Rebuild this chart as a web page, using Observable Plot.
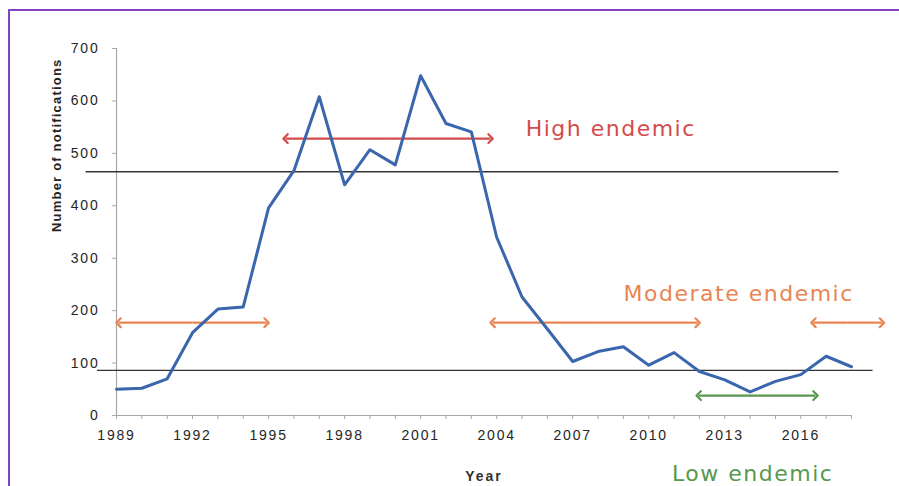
<!DOCTYPE html>
<html>
<head>
<meta charset="utf-8">
<script src="https://cdn.jsdelivr.net/npm/d3@7"></script>
<script src="https://cdn.jsdelivr.net/npm/@observablehq/plot@0.6"></script>
<style>
  html, body { margin: 0; padding: 0; background: #fff; }
  #wrap { position: relative; width: 899px; height: 486px; overflow: hidden; }
  #frame { position: absolute; left: 8px; top: 9px; width: 900px; height: 490px;
           border-left: 2px solid #8344c4; border-top: 2px solid #8344c4; box-sizing: border-box; }
  #chart { position: absolute; left: 0; top: 0; }
  #chart svg [aria-label="x-axis tick label"] text,
  #chart svg [aria-label="y-axis tick label"] text { letter-spacing: 1.8px; }
</style>
</head>
<body>
<div id="wrap"><div id="frame"></div><div id="chart"></div></div>
<script>
// Annual notifications
const years = [1989,1990,1991,1992,1993,1994,1995,1996,1997,1998,1999,2000,2001,2002,2003,2004,2005,2006,2007,2008,2009,2010,2011,2012,2013,2014,2015,2016,2017,2018];
const notifications = [50,52,70,158,203,207,396,467,608,440,507,478,648,557,541,340,226,165,103,122,131,96,120,84,68,45,65,78,113,93];

// Endemicity thresholds (horizontal lines)
const thresholdValues = [465, 86];
const thresholdFrom = [1987.8, 1988.25];
const thresholdTo = [2017.5, 2018.85];

// Endemicity periods (double arrows)
const bandLevels = ["High", "Moderate", "Moderate", "Moderate", "Low"];
const bandFrom = [1995.67, 1989.08, 2003.84, 2016.5, 2011.97];
const bandTo = [2003.76, 1994.92, 2011.93, 2019.2, 2016.58];
const bandValue = [528, 177, 177, 177, 38];

// Annotation labels
const labelTexts = ["High endemic", "Moderate endemic", "Low endemic"];
const labelLevels = ["High", "Moderate", "Low"];
const labelYear = [2008.5, 2013.55, 2014.1];
const labelValue = [547, 231, -110.6];

const yTicks = [0,100,200,300,400,500,600,700];
const xLabelTicks = [1989,1992,1995,1998,2001,2004,2007,2010,2013,2016];

const levelColor = {High: "#d34b4b", Moderate: "#e98552", Low: "#57984e"};

const series = years.map((y, i) => ({year: y, value: notifications[i]}));
const thresholds = thresholdValues.map((v, i) => ({v, x1: thresholdFrom[i], x2: thresholdTo[i]}));
// each double arrow = two half arrows from the middle of the period to each end
const halfArrows = bandLevels.flatMap((l, i) => {
  const mid = (bandFrom[i] + bandTo[i]) / 2;
  return [
    {level: l, x1: mid, x2: bandFrom[i], v: bandValue[i]},
    {level: l, x1: mid, x2: bandTo[i], v: bandValue[i]}
  ];
});
const labels = labelTexts.map((t, i) => ({text: t, level: labelLevels[i], x: labelYear[i], v: labelValue[i]}));

const chart = Plot.plot({
  width: 899,
  height: 486,
  marginLeft: 116,
  marginRight: 48,
  marginTop: 48,
  marginBottom: 71,
  style: {fontFamily: "'Liberation Sans', Arial, sans-serif", fontSize: "14px", color: "#333", background: "transparent", overflow: "visible"},
  x: {domain: [1989, 2018], type: "linear"},
  y: {domain: [0, 700]},
  marks: [
    Plot.ruleX([1989], {y1: 0, y2: 700, stroke: "#a8a8a8", strokeWidth: 1.2}),
    Plot.ruleY([0], {x1: 1989, x2: 2018, stroke: "#a8a8a8", strokeWidth: 1.2}),
    Plot.axisY({ticks: yTicks, tickSize: 4, tickPadding: 13, label: null, stroke: "#a8a8a8", fill: "#262626"}),
    Plot.axisX({ticks: years, tickSize: 4, tickFormat: () => "", label: null, stroke: "#a8a8a8"}),
    Plot.axisX({ticks: xLabelTicks, tickSize: 0, tickPadding: 15, tickFormat: d => String(d), label: null, fill: "#262626"}),
    Plot.ruleY(thresholds, {y: "v", x1: "x1", x2: "x2", stroke: "#333", strokeWidth: 1.4}),
    Plot.link(halfArrows, {x1: "x1", x2: "x2", y1: "v", y2: "v", stroke: d => levelColor[d.level], strokeWidth: 2.2, markerEnd: "arrow"}),
    Plot.line(series, {x: "year", y: "value", stroke: "#3a66ad", strokeWidth: 3, strokeLinejoin: "round"}),
    Plot.text(labels, {x: "x", y: "v", text: "text", fill: d => levelColor[d.level], fontSize: 22, fontFamily: "'DejaVu Sans', Verdana, sans-serif", textAnchor: "middle", lineAnchor: "middle"}),
    Plot.text(["Year"], {frameAnchor: "bottom", dy: 61, text: d => d, fontWeight: "bold", fontSize: 14, fill: "#333", lineAnchor: "middle"}),
    Plot.text(["Number of notifications"], {frameAnchor: "left", dx: -60, rotate: -90, text: d => d, fontWeight: "bold", fontSize: 13, fill: "#222", lineAnchor: "middle"})
  ]
});
d3.select(chart).selectAll('[aria-label="text"] text').style("letter-spacing", function() {
  const t = this.textContent;
  if (t === "Year") return "2px";
  if (t === "Number of notifications") return "1.2px";
  return "1.5px";
});
document.getElementById("chart").appendChild(chart);
</script>
</body>
</html>
